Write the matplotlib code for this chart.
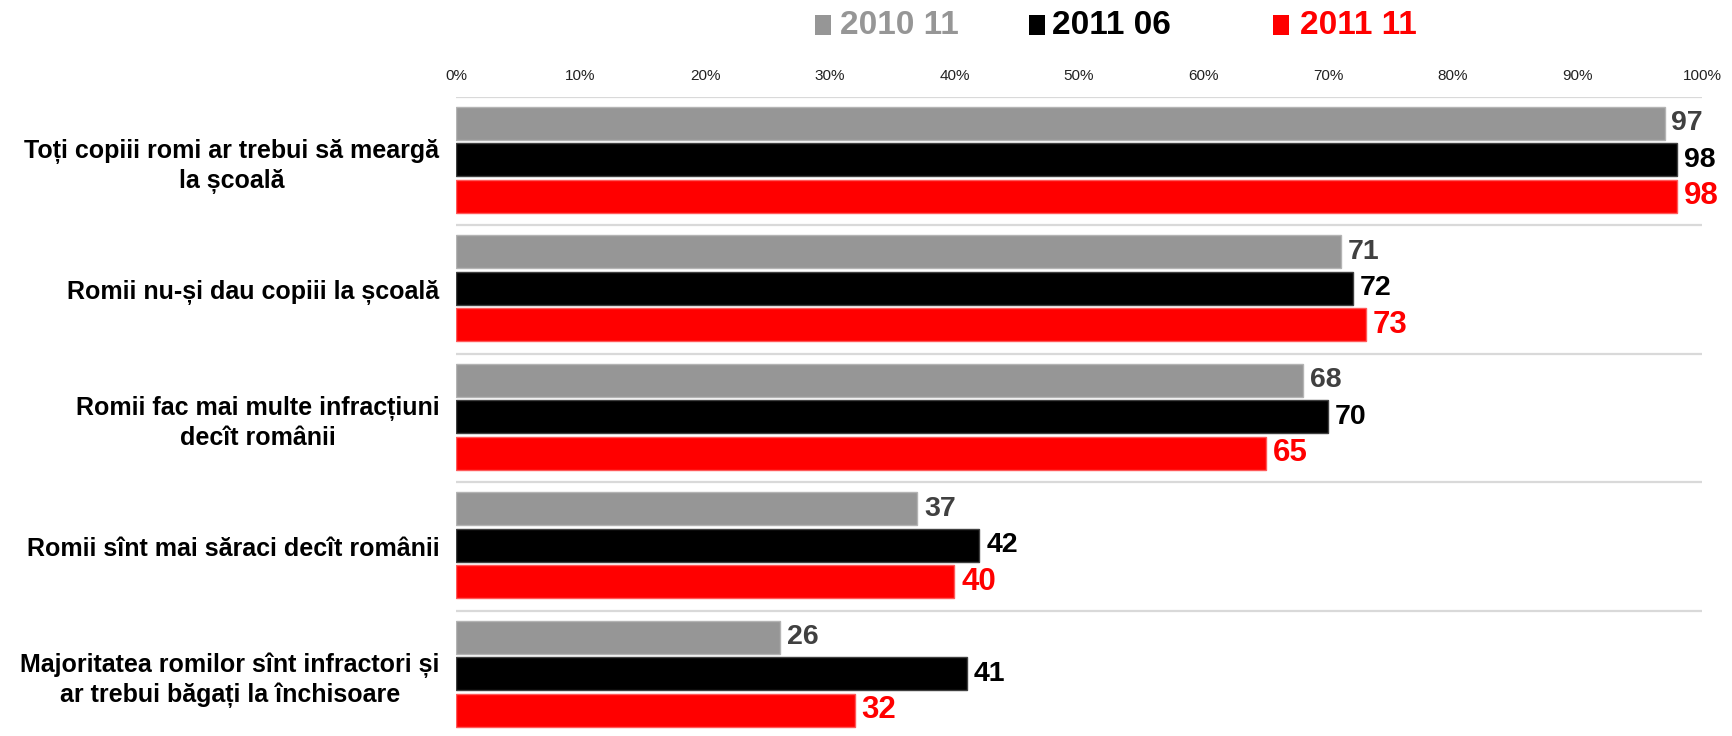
import matplotlib
matplotlib.use("Agg")
import matplotlib.pyplot as plt
from matplotlib.patches import Rectangle
import numpy as np

plt.rcParams['font.family'] = ['Liberation Sans', 'DejaVu Sans']

categories = [
    "Toți copiii romi ar trebui să meargă\nla școală",
    "Romii nu-și dau copiii la școală",
    "Romii fac mai multe infracțiuni\ndecît românii",
    "Romii sînt mai săraci decît românii",
    "Majoritatea romilor sînt infractori și\nar trebui băgați la închisoare",
]
series_names = ["2010 11", "2011 06", "2011 11"]
vals_2010_11 = [97, 71, 68, 37, 26]
vals_2011_06 = [98, 72, 70, 42, 41]
vals_2011_11 = [98, 73, 65, 40, 32]
tick_values = [0, 10, 20, 30, 40, 50, 60, 70, 80, 90, 100]
tick_labels = [f"{v}%" for v in tick_values]

series = [vals_2010_11, vals_2011_06, vals_2011_11]
fills = ["#969696", "#000000", "#ff0000"]
edges = ["#b4b4b4", "#404040", "#ff5a5a"]
label_colors = ["#404040", "#000000", "#ff0000"]
label_sizes = [20.5, 20.5, 22.5]

W, H = 1733, 736
fig = plt.figure(figsize=(W / 100, H / 100), dpi=100)
ax_left, ax_right = 456, 1702
ax_top, grp = 96.7, 128.5
ax_bottom = ax_top + 5 * grp
ax = fig.add_axes([ax_left / W, 1 - ax_bottom / H, (ax_right - ax_left) / W, 5 * grp / H])

y = np.arange(len(categories))
slot, shift, bh = 0.284, -0.01, 0.257
for i, vals in enumerate(series):
    pos = y + (i - 1) * slot + shift
    ax.barh(pos, vals, height=bh, color=fills[i], edgecolor=edges[i], linewidth=1.0, zorder=3)
    for p, v in zip(pos, vals):
        ax.text(v + 0.55, p, f"{v}", va="center", ha="left", fontsize=label_sizes[i],
                fontweight="bold", color=label_colors[i], zorder=4)

for k in range(len(categories) + 1):
    ax.axhline(k - 0.5, xmin=0, xmax=1.0, color="#d9d9d9", lw=1.6, zorder=1)

ax.set_xlim(0, 100)
ax.set_ylim(len(categories) - 0.5, -0.5)
ax.set_xticks(tick_values)
ax.set_xticklabels(tick_labels)
ax.xaxis.tick_top()
ax.tick_params(axis="x", length=0, pad=10, labelsize=11, labelcolor="#222222")
ax.set_yticks(y)
ax.set_yticklabels(categories, fontsize=18, fontweight="bold", linespacing=1.25)
for t in ax.get_yticklabels():
    t.set_multialignment("center")
ax.tick_params(axis="y", length=0, pad=12)
for s in ax.spines.values():
    s.set_visible(False)

# legend
leg_sq_x = [815, 1029, 1273]
leg_txt_x = [840, 1052, 1300]
leg_colors = ["#969696", "#000000", "#ff0000"]
for sx, tx, c, name in zip(leg_sq_x, leg_txt_x, leg_colors, series_names):
    fig.patches.append(Rectangle((sx / W, 1 - 35 / H), 16 / W, 20 / H, transform=fig.transFigure,
                                 facecolor=c, edgecolor="none"))
    fig.text(tx / W, 1 - 26 / H, name, ha="left", va="center", fontsize=24,
             fontweight="bold", color=c)

fig.savefig("out.png", dpi=100)
